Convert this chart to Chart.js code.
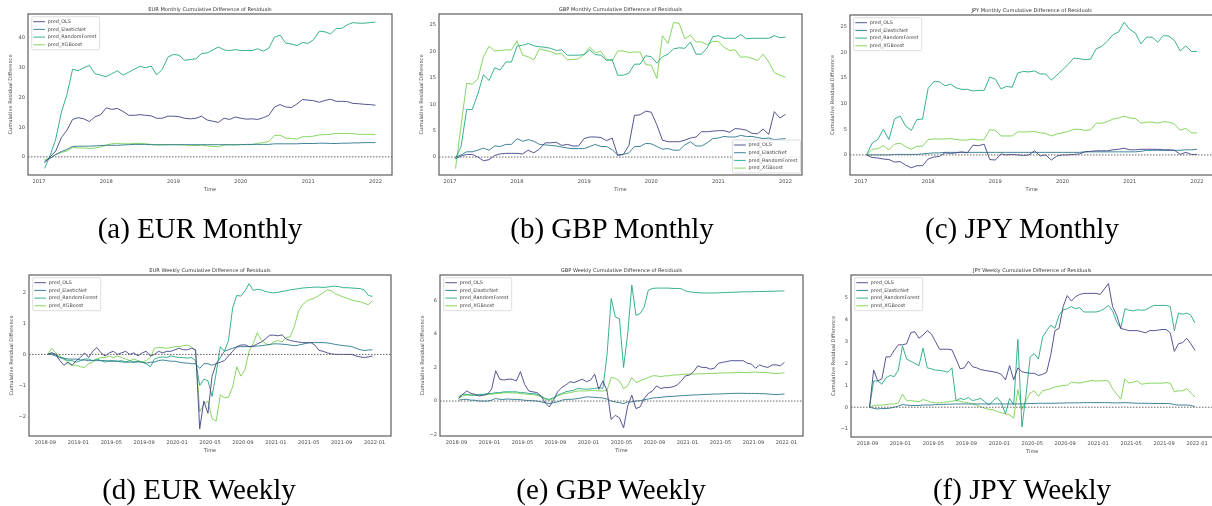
<!DOCTYPE html>
<html>
<head>
<meta charset="utf-8">
<script src="https://cdn.jsdelivr.net/npm/chart.js@4.4.0/dist/chart.umd.min.js"></script>
<style>
  html, body { margin: 0; padding: 0; background: #fff; width: 1212px; height: 506px; overflow: hidden; }
  #wrap { position: relative; width: 1212px; height: 506px; }
  canvas { position: absolute; left: 0; top: 0; }
  .cap { position: absolute; font-family: "Liberation Serif", "Times New Roman", serif; font-size: 29px; color: #000; white-space: nowrap; transform: translate(-50%, -50%); }
</style>
</head>
<body>
<div id="wrap"></div>
<script>
// ---- data ----
var seriesNames = ["pred_OLS", "pred_ElasticNet", "pred_RandomForest", "pred_XGBoost"];
var seriesColors = ["rgba(65,68,135,0.9)", "rgba(42,120,142,0.9)", "rgba(34,168,132,0.9)", "rgba(122,209,81,0.9)"];

var monthTickLabels = ["2017", "2018", "2019", "2020", "2021", "2022"];
var monthTickPos = [0, 12, 24, 36, 48, 60];
var weekTickLabels = ["2018-09", "2019-01", "2019-05", "2019-09", "2020-01", "2020-05", "2020-09", "2021-01", "2021-05", "2021-09", "2022-01"];
var weekTickPos = [0, 4, 8, 12, 16, 20, 24, 28, 32, 36, 40];

// monthly: one value per month end, Jan 2017 .. Dec 2021
var eurM_ols = [-2,0,2,6.5,9,12.6,13.2,12.8,11.9,13.5, 14.2,16.5,16,16.3,15.3,14,14,14.2,14,13.8, 13,13,13.7,13.7,13.5,13,12.8,13,13.7,12.4, 12,11.6,13,12.6,13.4,13,12.7,12.8,12.6,13.2, 14,16.8,17.6,16.8,16.6,17.8,19.3,19.1,18.9,18.4, 19,19.4,18.7,18.7,18.6,18,17.9,17.7,17.6,17.4];
var eurM_enet = [-1.5,-0.5,0.8,1.8,2.5,3.5,3.6,3.6,3.6,3.7, 3.8,3.9,3.9,3.9,4,4.1,4.2,4.2,4.2,4.1, 4.1,4.1,4.1,4.1,4.1,4.1,4.1,4.1,4.1,4.1, 4.1,4.1,4.1,4.1,4.1,4.1,4.2,4.2,4.2,4.2, 4.2,4.4,4.4,4.4,4.4,4.4,4.5,4.5,4.5,4.6, 4.6,4.5,4.5,4.6,4.6,4.7,4.7,4.8,4.8,4.8];
var eurM_rf = [-3.9,0.5,6,15,21,29.5,29,30,30.8,28, 27.5,27,28,29,27.5,28.5,29.5,30.5,30,30.6, 27.6,29.5,33.6,34.5,34.2,32.5,32.8,33,34.8,35, 36,37,36,35.8,36.1,35.8,35.8,35.8,36.4,35.6, 36.6,40.3,41,38.3,38,37.5,38.5,38.2,39.5,42.3, 42.1,41.4,43.2,43.3,44.5,45.2,45,45,45.2,45.4];
var eurM_xgb = [-1,-0.3,0.8,1.5,2,3.2,3,3,2.8,3, 3.3,4,4.4,4.5,4.4,4.4,4.5,4.5,4.4,4.2, 4,4,4.1,4.1,4.1,4,3.9,3.8,4,3.7, 3.5,3.4,4,4.1,4,4.2,4.1,4.1,4.6,4.8, 5.2,7.2,7.3,6.3,6.2,6,6.8,6.8,7,7.4, 7.5,7.6,7.9,7.9,7.9,7.8,7.6,7.6,7.6,7.5];

var gbpM_ols = [-0.3,0.2,0.5,0.5,0,-0.7,-0.5,0.3,0.6,0.7, 0.7,0.7,0.6,1.3,0.8,1.5,2.7,2.7,2.8,2.2, 2.4,2.1,2.1,3.5,3.8,3.8,3.7,3.1,3.6,0.3, 0.5,2.2,7.9,8,8.7,8.5,6.1,3.2,2.9,2.9, 2.9,3.2,3.6,3.8,4.8,4.8,4.9,5,5,4.7, 5.4,5.3,5.1,4.5,4.4,5.3,4.3,8.6,7.4,8.1];
var gbpM_enet = [0,0.4,1,1,1.3,1.7,1.3,2.1,2,2.4, 2.4,3.5,3,3.3,3,2.4,2.3,2.2,2.1,1.9, 1.7,1.6,1.6,1.6,2,2.4,2,2,1.4,0.4, 0.5,0.8,2,2,2.6,2.5,2,1.5,1.6,1.3, 1.3,2.3,2.9,2.1,2.1,2.7,3.5,3.6,3.9,3.8, 3.8,4.1,3.9,3.9,3.7,3.5,3.6,3.3,3.4,3.5];
var gbpM_rf = [-0.3,2,9,9,12,15.6,14.5,16.9,16.5,18, 18,21,21.2,21.5,21.1,20.9,20.8,20.6,20.2,20.3, 19.3,19.3,19.3,19.4,20.3,19.4,19.3,18.3,18.5,15.5, 15.5,15.9,17.6,17.6,19.2,19,17.8,19,19.5,20.5, 20.7,20.6,21.8,19.5,19.5,20.7,22.8,23,22.5,22.5, 22.5,23.2,22.4,22.5,22.5,22.5,22.5,23,22.6,22.7];
var gbpM_xgb = [-2.2,6,14,13.8,14.8,19,21,20.1,20.2,20.3, 20.3,22,19.3,19,18.4,20.5,20.2,20,19.5,19.6, 18.4,18.5,18.6,19.5,20.8,19.8,20,18.5,18.2,20.1, 20.1,19.8,19.9,19.9,17.5,17.4,14.9,23,21.5,25.5, 25.3,22.4,23.1,21.8,21.8,21.3,21.9,21.9,20.8,20.2, 20.3,18.9,19,18.7,18.3,19.5,18,16,15.5,15.1];

var jpyM_ols = [0,-0.5,-0.6,-0.8,-0.9,-1.4,-1.3,-2,-2.5,-2.1, -2.1,-0.8,-0.4,-0.3,0.4,0.3,0.4,0.6,0.4,1.9, 1.8,2.1,-0.9,-1,0.2,0,0.1,0,-0.1,0, 0.8,-0.2,0,-1,-0.2,0,0,0.1,0.2,0.6, 0.7,0.8,0.8,0.8,1,1.1,1.3,1,1,1.1, 1.1,1.1,1.1,1,1,0.9,0.1,0.5,0.1,0.1];
var jpyM_enet = [0,0,0,0,0,0.1,0.1,0.1,0.1,0.1, 0.2,0.3,0.4,0.4,0.5,0.5,0.5,0.5,0.5,0.5, 0.5,0.5,0.5,0.5,0.5,0.5,0.5,0.5,0.5,0.5, 0.5,0.5,0.5,0.5,0.5,0.5,0.5,0.5,0.5,0.6, 0.6,0.6,0.6,0.6,0.6,0.6,0.6,0.6,0.6,0.7, 0.9,0.9,0.9,0.9,0.9,0.9,0.9,1,1,1.1];
var jpyM_rf = [0,2.3,3,5,3,7,7.6,5.6,4.8,6.9, 7,13,14.3,14.3,13.5,13.8,13.1,12.8,12.8,12.5, 12.6,12.6,15.2,14.8,12.9,13.4,13.2,16,16.3,16.2, 16.4,15.8,15.8,14.6,15.6,16.6,17.7,18.9,18.8,18.6, 18.7,20.7,21.2,22.2,23.5,24,25.9,24.5,23.8,21.7, 23,23,22,23.3,23.2,22.3,20.3,21.3,20.2,20.2];
var jpyM_xgb = [0,1.1,1.2,1.8,1,2.1,2.3,1.6,1.1,1.7, 1.7,3,3.1,3.1,3.1,3.2,3,2.9,2.9,3.1, 2.9,3,4.9,4.8,3.7,3.7,3.7,4.5,4.5,4.5, 4.6,4.3,4.2,3.7,4.1,4.3,4.6,5,5,4.8, 4.9,6.2,6.2,6.5,7,7.2,7.6,7.2,7.1,6.2, 6.4,6.4,6.2,6.5,6.4,6,4.8,5.2,4.3,4.3];

// weekly: read every half month, Sep 2018 .. Dec 2021
var eurW_ols = [0,0.05,0,-0.2,-0.35,-0.25,-0.35,-0.2,-0.1,0.05, -0.1,0.1,0.22,0.05,-0.05,0.05,0.1,0,0.05,0.1, 0,0.05,-0.05,0.05,0.1,-0.05,0,0.1,0.05,0.1, 0.1,0.15,0.2,0.15,0.15,0.2,0.15,-2.4,-1.5,-1.9, -0.7,-0.3,-0.25,-0.2,-0.05,0.1,0.25,0.3,0.31,0.25, 0.27,0.34,0.4,0.5,0.62,0.62,0.6,0.63,0.5,0.45, 0.42,0.4,0.38,0.38,0.38,0.3,0.13,0.1,0.05,0.02, 0,0,0,0,0,-0.05,-0.08,-0.1,-0.08,-0.05];
var eurW_enet = [0,0,-0.05,-0.1,-0.12,-0.15,-0.15,-0.15,-0.18,-0.18, -0.2,-0.2,-0.2,-0.2,-0.2,-0.22,-0.22,-0.22,-0.24,-0.25, -0.25,-0.25,-0.24,-0.25,-0.28,-0.25,-0.25,-0.2,-0.18,-0.2, -0.22,-0.22,-0.25,-0.27,-0.28,-0.3,-0.3,-0.45,-0.3,-0.3, -0.35,-0.3,-0.1,0.1,0.15,0.2,0.24,0.25,0.25,0.25, 0.26,0.27,0.28,0.3,0.32,0.34,0.34,0.33,0.32,0.3, 0.28,0.3,0.33,0.36,0.38,0.38,0.38,0.38,0.37,0.35, 0.32,0.3,0.28,0.27,0.25,0.2,0.15,0.13,0.14,0.15];
var eurW_rf = [0,0.05,0,-0.1,-0.15,-0.2,-0.2,-0.25,-0.2,-0.15, -0.15,-0.2,-0.15,-0.2,-0.25,-0.2,-0.2,-0.22,-0.2,-0.25, -0.2,-0.25,-0.22,-0.25,-0.3,-0.4,-0.15,-0.1,-0.08,-0.1, -0.05,-0.08,-0.1,-0.1,-0.12,-0.1,-0.2,-1.0,-0.8,-0.85, -1.35,-0.6,0.25,0.1,0.45,1.5,1.9,1.88,2.05,2.28, 2.06,2.1,2.08,2.03,2.0,1.98,2.0,2.03,2.05,2.08, 2.1,2.12,2.14,2.15,2.16,2.17,2.17,2.16,2.17,2.19, 2.2,2.18,2.15,2.15,2.14,2.13,2.12,2.08,1.9,1.87];
var eurW_xgb = [0,0.2,0.05,-0.05,-0.15,-0.3,-0.35,-0.35,-0.4,-0.42, -0.3,-0.25,-0.15,-0.1,-0.1,-0.05,-0.1,-0.05,-0.1,-0.15, -0.2,-0.15,-0.2,-0.25,-0.2,-0.1,0.2,0.22,0.22,0.2, 0.22,0.25,0.25,0.28,0.3,0.25,0.1,-1.85,-1.6,-1.5, -2.07,-2.15,-1.3,-1.4,-1.38,-1.05,-0.4,-0.7,-0.5,0.1, 0.35,0.7,0.45,0.35,0.3,0.4,0.45,0.4,0.55,0.56, 0.9,1.4,1.6,1.72,1.78,1.82,1.9,1.98,2.08,2.05, 1.95,1.9,1.85,1.8,1.75,1.72,1.7,1.65,1.6,1.74];

var gbpW_ols = [0.15,0.4,0.6,0.45,0.4,0.3,0.35,0.4,0.7,1.8, 1.3,1.25,1.3,1.3,1.2,1.75,1.0,0.6,0.55,0.5, 0.3,-0.1,-0.35,0.05,0.55,0.8,0.95,1.15,1.1,1.2, 1.3,1.15,1.25,1.6,0.7,1.2,0.6,-1.1,-0.85,-1.0, -1.6,-0.3,0.35,-0.45,-0.35,0.15,0.45,0.6,0.9,0.75, 0.8,0.8,0.85,0.95,1.2,1.5,1.55,1.75,2.1,2.0, 2.0,1.9,1.95,2.25,2.3,2.35,2.4,2.4,2.4,2.4, 2.25,2.2,1.95,2.15,2.05,2.0,2.15,2.15,2.1,2.3];
var gbpW_enet = [0.05,0.1,0.1,0.05,0.05,0,0,0,0.05,0.15, 0.1,0.1,0.12,0.1,0.1,0.08,0.05,0.03,0.02,0, -0.05,-0.1,-0.15,-0.1,-0.05,0.05,0.1,0.1,0.12,0.15, 0.2,0.25,0.24,0.22,0.2,0.18,0.12,0,-0.05,-0.1, -0.15,-0.05,-0.05,0,0.02,0.08,0.12,0.18,0.2,0.22, 0.25,0.27,0.28,0.3,0.32,0.33,0.35,0.36,0.37,0.38, 0.4,0.4,0.42,0.42,0.43,0.44,0.45,0.46,0.46,0.46, 0.45,0.45,0.45,0.44,0.44,0.42,0.4,0.38,0.4,0.42];
var gbpW_rf = [0.25,0.4,0.4,0.35,0.35,0.4,0.4,0.45,0.45,0.5, 0.5,0.55,0.55,0.55,0.55,0.5,0.5,0.45,0.45,0.4, 0.3,0.15,0.1,0.2,0.35,0.45,0.55,0.6,0.65,0.75, 0.72,0.7,0.72,0.75,0.8,0.75,2.8,6.1,5.0,4.9, 2.0,4.0,6.9,5.1,5.2,5.6,6.6,6.7,6.72,6.72, 6.72,6.72,6.7,6.7,6.68,6.55,6.5,6.47,6.45,6.43, 6.43,6.43,6.43,6.44,6.45,6.46,6.47,6.48,6.49,6.5, 6.5,6.5,6.51,6.52,6.52,6.53,6.53,6.54,6.55,6.55];
var gbpW_xgb = [0.15,0.3,0.35,0.35,0.35,0.35,0.35,0.4,0.4,0.45, 0.45,0.5,0.5,0.48,0.48,0.45,0.42,0.4,0.38,0.35, 0.25,0.1,0.05,0.15,0.3,0.4,0.45,0.5,0.55,0.6, 0.6,0.6,0.62,0.62,0.6,0.6,0.65,1.4,1.35,1.2, 0.75,0.9,1.4,1.1,1.2,1.3,1.4,1.5,1.5,1.45, 1.5,1.5,1.55,1.55,1.58,1.6,1.6,1.6,1.62,1.62, 1.63,1.64,1.65,1.66,1.67,1.68,1.68,1.69,1.7,1.7, 1.7,1.72,1.72,1.7,1.7,1.68,1.66,1.64,1.65,1.68];

var jpyW_ols = [0,1.7,1.2,1.3,2.3,2.3,2.6,2.85,2.85,2.9, 3.4,3.45,3.15,3.3,3.5,3.35,3.0,2.65,2.65,2.65, 2.62,2.2,1.75,1.8,2.1,1.85,1.8,1.72,1.68,1.65, 1.62,1.58,1.5,1.25,1.9,1.25,1.8,1.62,1.58,1.55, 1.55,1.45,1.5,1.6,2.4,3.5,3.6,4.6,5.1,4.85, 5.05,5.15,5.2,5.2,5.2,5.2,5.15,5.4,5.65,4.6, 4.2,3.6,3.55,3.5,3.5,3.5,3.45,3.4,3.5,3.5, 3.52,3.55,3.55,3.4,2.55,2.9,2.95,3.15,2.9,2.6];
var jpyW_enet = [0,-0.05,-0.08,-0.06,-0.06,-0.04,0,0.05,0.12,0.1, 0.08,0.08,0.08,0.1,0.1,0.1,0.12,0.12,0.13,0.14, 0.14,0.15,0.15,0.15,0.15,0.15,0.15,0.15,0.15,0.15, 0.15,0.15,0.15,0.15,0.15,0.15,0.15,0.15,0.16,0.17, 0.17,0.18,0.18,0.18,0.18,0.18,0.19,0.19,0.2,0.2, 0.2,0.2,0.21,0.21,0.21,0.21,0.21,0.21,0.21,0.2, 0.2,0.2,0.21,0.2,0.19,0.18,0.18,0.18,0.18,0.17, 0.17,0.17,0.17,0.16,0.12,0.1,0.1,0.1,0.08,0.03];
var jpyW_rf = [0,1.2,1.2,1.05,1.35,1.45,1.4,1.7,2.8,2.2, 2.1,2.0,1.9,2.7,1.8,1.75,1.7,1.68,1.65,1.6, 1.8,0.3,0.4,0.35,0.45,0.3,0.35,0.4,0.25,0.1, 0.3,0.45,0.2,-0.3,0.4,0.1,3.1,-0.9,0.6,2.3, 2.45,2.2,3.2,3.5,3.75,3.6,4.2,4.45,4.5,4.6, 4.5,4.55,4.35,4.35,4.35,4.35,4.4,4.5,4.65,4.4, 3.9,3.6,4.5,4.43,4.4,4.45,4.43,4.45,4.55,4.65, 4.65,4.65,4.65,4.6,3.5,4.3,4.25,4.3,4.2,3.85];
var jpyW_xgb = [0,0.08,0.1,0.1,0.12,0.15,0.15,0.2,0.6,0.3, 0.3,0.28,0.25,0.35,0.3,0.22,0.2,0.2,0.22,0.25, 0.28,0.3,0.28,0.22,0.2,0.15,0.1,0.02,-0.05,-0.1, -0.12,-0.2,-0.25,-0.3,-0.35,-0.5,0.8,-0.1,0.3,0.65, 0.75,0.5,0.75,0.8,0.85,0.92,0.95,1.0,1.0,1.15, 1.12,1.1,1.15,1.18,1.22,1.2,1.2,1.22,1.2,0.85, 0.6,0.37,1.3,1.1,1.15,1.2,1.05,1.08,1.1,1.1, 1.1,1.1,1.12,1.1,0.7,0.75,0.75,0.85,0.65,0.47];

// ---- panels ----
var legendFont = '4.9px "DejaVu Sans"';
var textColor = '#4a4a4a';

var decor = {
  id: 'decor',
  afterDraw: function (chart, args, o) {
    var c = chart.ctx, a = chart.chartArea;
    c.save();
    // dotted zero line
    var y0 = chart.scales.y.getPixelForValue(0);
    c.strokeStyle = '#666';
    c.lineWidth = 1;
    c.setLineDash([1.5, 1.5]);
    c.beginPath(); c.moveTo(a.left, y0); c.lineTo(a.right, y0); c.stroke();
    c.setLineDash([]);
    // frame
    c.strokeStyle = '#5e5e5e';
    c.lineWidth = 1.2;
    c.strokeRect(a.left, a.top, a.right - a.left, a.bottom - a.top);
    // title
    c.fillStyle = '#333';
    c.font = '5.1px "DejaVu Sans"';
    c.textAlign = 'center';
    c.textBaseline = 'middle';
    c.fillText(o.title, (a.left + a.right) / 2, a.top - 4);
    // legend
    var w = 68, h = 33;
    var bx = o.legend === 'lr' ? a.right - w - 1.5 : a.left + 3.7;
    var by = o.legend === 'lr' ? a.bottom - h - 2 : a.top + 2.7;
    c.fillStyle = 'rgba(255,255,255,0.85)';
    c.strokeStyle = '#d4d4d4';
    c.lineWidth = 0.8;
    c.beginPath();
    c.roundRect(bx, by, w, h, 1.5);
    c.fill(); c.stroke();
    c.font = legendFont;
    c.textAlign = 'left';
    chart.data.datasets.forEach(function (d, i) {
      var yy = by + 5 + i * 7.7;
      c.strokeStyle = d.borderColor;
      c.lineWidth = 1;
      c.beginPath(); c.moveTo(bx + 1.6, yy); c.lineTo(bx + 13.3, yy); c.stroke();
      c.fillStyle = '#444';
      c.fillText(d.label, bx + 16, yy);
    });
    c.restore();
  }
};

function fmt(v) {
  return v < 0 ? '\u2212' + Math.abs(v) : String(v);
}

function makePanel(p) {
  var canvas = document.createElement('canvas');
  canvas.width = 1220;
  canvas.height = 506;
  document.getElementById('wrap').appendChild(canvas);
  var datasets = p.series.map(function (s, i) {
    return {
      label: seriesNames[i],
      data: s.map(function (v, k) { return { x: p.xs[k], y: v }; }),
      borderColor: seriesColors[i],
      borderWidth: 1,
      pointRadius: 0,
      tension: 0,
      fill: false
    };
  });
  var tickFont = { family: 'DejaVu Sans', size: 5.1 };
  new Chart(canvas.getContext('2d'), {
    type: 'line',
    data: { datasets: datasets },
    options: {
      responsive: false,
      animation: false,
      devicePixelRatio: 1,
      layout: { padding: { left: p.box[0] - 20, top: p.box[1], right: 1220 - p.box[2], bottom: 506 - p.box[3] - 18 } },
      plugins: { legend: { display: false }, tooltip: { enabled: false }, decor: { title: p.title, legend: p.legend } },
      scales: {
        x: {
          type: 'linear', min: p.xr[0], max: p.xr[1],
          afterFit: function (s) { s.height = 18; },
          afterBuildTicks: function (s) { s.ticks = p.xTicks.map(function (v) { return { value: v }; }); },
          ticks: {
            autoSkip: false, maxRotation: 0, padding: 4, color: textColor, font: tickFont,
            callback: function (v, i) { return p.xLabels[i]; }
          },
          grid: { display: false, drawTicks: false },
          border: { display: false },
          title: { display: true, text: 'Time', padding: 0, color: textColor, font: tickFont }
        },
        y: {
          min: p.yr[0], max: p.yr[1],
          afterFit: function (s) { s.width = 20; },
          afterBuildTicks: function (s) { s.ticks = p.yTicks.map(function (v) { return { value: v }; }); },
          ticks: { padding: 3, color: textColor, font: tickFont, callback: function (v) { return fmt(v); } },
          grid: { display: false, drawTicks: false },
          border: { display: false },
          title: { display: true, text: 'Cumulative Residual Difference', padding: 0, color: textColor, font: tickFont }
        }
      }
    },
    plugins: [decor]
  });
}

var monthX = eurM_ols.map(function (v, k) { return k + 1; });
var weekX = eurW_ols.map(function (v, k) { return 0.25 + k * 0.5; });

makePanel({ title: 'EUR Monthly Cumulative Difference of Residuals', legend: 'ul', box: [28, 14, 392, 175],
  xs: monthX, xr: [-1.95, 62.95], yr: [-6.1, 48.1], xTicks: monthTickPos, xLabels: monthTickLabels, yTicks: [0, 10, 20, 30, 40],
  series: [eurM_ols, eurM_enet, eurM_rf, eurM_xgb] });
makePanel({ title: 'GBP Monthly Cumulative Difference of Residuals', legend: 'lr', box: [439, 14, 802, 175],
  xs: monthX, xr: [-1.95, 62.95], yr: [-3.4, 27.1], xTicks: monthTickPos, xLabels: monthTickLabels, yTicks: [0, 5, 10, 15, 20, 25],
  series: [gbpM_ols, gbpM_enet, gbpM_rf, gbpM_xgb] });
makePanel({ title: 'JPY Monthly Cumulative Difference of Residuals', legend: 'ul', box: [850, 15, 1213.5, 175],
  xs: monthX, xr: [-1.95, 62.95], yr: [-3.92, 27.32], xTicks: monthTickPos, xLabels: monthTickLabels, yTicks: [0, 5, 10, 15, 20, 25],
  series: [jpyM_ols, jpyM_enet, jpyM_rf, jpyM_xgb] });
makePanel({ title: 'EUR Weekly Cumulative Difference of Residuals', legend: 'ul', box: [29, 275, 391, 436],
  xs: weekX, xr: [-2, 42], yr: [-2.63, 2.56], xTicks: weekTickPos, xLabels: weekTickLabels, yTicks: [-2, -1, 0, 1, 2],
  series: [eurW_ols, eurW_enet, eurW_rf, eurW_xgb] });
makePanel({ title: 'GBP Weekly Cumulative Difference of Residuals', legend: 'ul', box: [440, 275, 803, 436],
  xs: weekX, xr: [-2, 42], yr: [-2.08, 7.5], xTicks: weekTickPos, xLabels: weekTickLabels, yTicks: [-2, 0, 2, 4, 6],
  series: [gbpW_ols, gbpW_enet, gbpW_rf, gbpW_xgb] });
makePanel({ title: 'JPY Weekly Cumulative Difference of Residuals', legend: 'ul', box: [851, 275, 1213.5, 437],
  xs: weekX, xr: [-2, 42], yr: [-1.36, 6.04], xTicks: weekTickPos, xLabels: weekTickLabels, yTicks: [-1, 0, 1, 2, 3, 4, 5],
  series: [jpyW_ols, jpyW_enet, jpyW_rf, jpyW_xgb] });

// captions
var captions = [
  ['(a) EUR Monthly', 200, 228], ['(b) GBP Monthly', 612, 228], ['(c) JPY Monthly', 1022, 228],
  ['(d) EUR Weekly', 199, 489], ['(e) GBP Weekly', 611, 489], ['(f) JPY Weekly', 1022, 489]
];
captions.forEach(function (c) {
  var d = document.createElement('div');
  d.className = 'cap';
  d.textContent = c[0];
  d.style.left = c[1] + 'px';
  d.style.top = c[2] + 'px';
  document.getElementById('wrap').appendChild(d);
});
</script>
</body>
</html>
